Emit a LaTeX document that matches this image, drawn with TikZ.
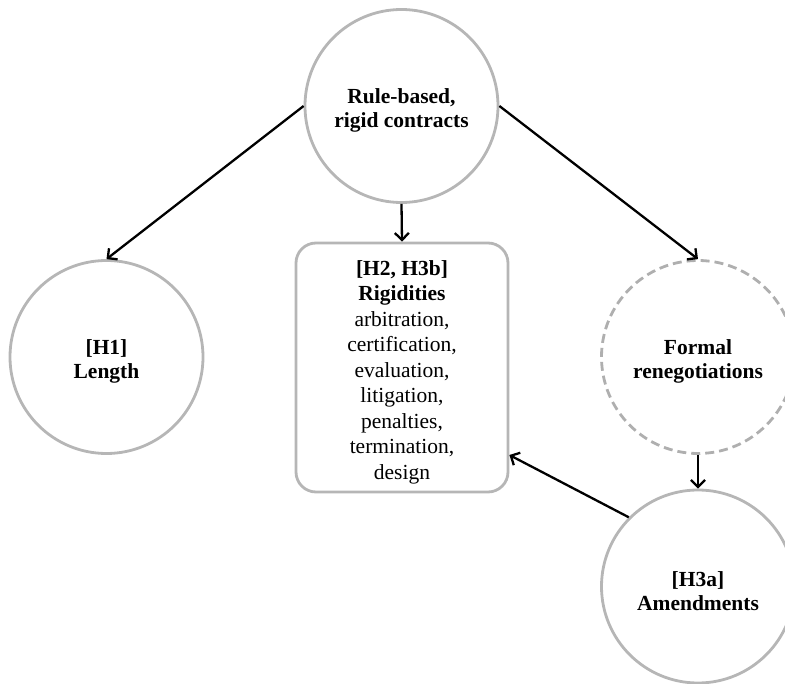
\documentclass[tikz,border=0pt]{standalone}
\usepackage{fontspec}
\setmainfont{Liberation Serif}
\usetikzlibrary{arrows.meta,calc}
\definecolor{ring}{RGB}{182,182,182}
\definecolor{dashring}{RGB}{175,175,175}
\begin{document}
\begin{tikzpicture}[x=1pt,y=-1pt,
  circ/.style={circle,draw=ring,line width=2.8pt,minimum size=193pt,inner sep=0pt},
  dcirc/.style={circ,draw=dashring,dash pattern=on 9pt off 5pt},
  ctext/.style={align=center,inner sep=0pt,font=\fontsize{21.5pt}{24.5pt}\selectfont\bfseries},
  rbox/.style={rectangle,rounded corners=20pt,draw=ring,line width=2.8pt,minimum width=212pt,minimum height=249pt,
    inner sep=0pt},
  btext/.style={align=center,inner sep=0pt,font=\fontsize{21.5pt}{25.5pt}\selectfont},
  conn/.style={line width=2.3pt,-{Straight Barb[length=7pt,width=14pt,line width=2.3pt]}}
]
\useasboundingbox (0,0) rectangle (785,684);
\node[circ] (top) at (401.5,106) {};
\node[ctext] (toptext) at ([yshift=-4.5pt]top.center) {Rule-based,\\rigid contracts};
\node[circ] (h1) at (106.5,357) {};
\node[ctext] (h1text) at ([yshift=-4.5pt]h1.center) {[H1]\\Length};
\node[rbox] (box) at (402,367.5) {};
\node[btext] (boxtext) at ([yshift=-4.5pt]box.center) {\textbf{[H2, H3b]}\\\textbf{Rigidities}\\arbitration,\\certification,\\evaluation,\\litigation,\\penalties,\\termination,\\design};
\node[dcirc] (formal) at (698,357) {};
\node[ctext] (formaltext) at ([yshift=-4.5pt]formal.center) {Formal\\renegotiations};
\node[circ] (h3a) at (698,586.5) {};
\node[ctext] (h3atext) at ([yshift=-4.5pt]h3a.center) {[H3a]\\Amendments};
\draw[conn] (top.west) -- (h1.north);
\draw[conn] (top.south) -- (box.north);
\draw[conn] (top.east) -- (formal.north);
\draw[conn] (formal.south) -- (h3a.north);
\draw[conn] (h3a.north west) -- ([yshift=-87.5pt]box.east);
\end{tikzpicture}
\end{document}
